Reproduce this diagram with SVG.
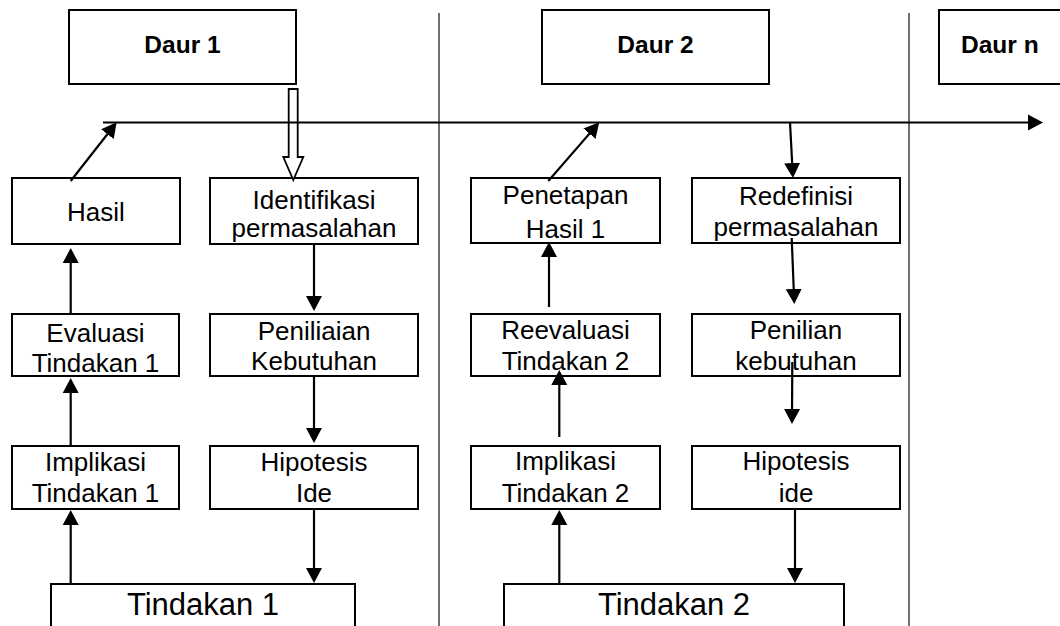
<svg xmlns="http://www.w3.org/2000/svg" width="1060" height="626" viewBox="0 0 1060 626">
<defs>
<style>
.box{fill:#fff;stroke:#000;stroke-width:2}
.t{font-family:"Liberation Sans",Arial,sans-serif;font-size:26px;fill:#000;text-anchor:middle}
.hb{font-family:"Liberation Sans",Arial,sans-serif;font-size:24.5px;font-weight:bold;fill:#000;text-anchor:middle}
.big{font-family:"Liberation Sans",Arial,sans-serif;font-size:31px;fill:#000;text-anchor:middle}
.c{stroke:#000;stroke-width:2.2;fill:none;marker-end:url(#ah)}
.div{stroke:#333;stroke-width:1.4}
</style>
<marker id="ah" markerUnits="userSpaceOnUse" markerWidth="16" markerHeight="17" refX="12" refY="8.5" orient="auto">
<path d="M0,0.5 L15,8.5 L0,16.5 Z" fill="#000"/>
</marker>
</defs>
<rect width="1060" height="626" fill="#fff"/>
<g id="dividers">
<line class="div" x1="439" y1="13" x2="439" y2="626"/>
<line class="div" x1="909" y1="13" x2="909" y2="626"/>
</g>
<g id="daur1"><rect class="box" x="69" y="10" width="227" height="74"/><text class="hb" x="182.5" y="53.3">Daur 1</text></g>
<g id="daur2"><rect class="box" x="542" y="10" width="227" height="74"/><text class="hb" x="655.5" y="53.3">Daur 2</text></g>
<g id="daurn"><rect class="box" x="939" y="10" width="140" height="74"/><text class="hb" x="961" y="53.3" style="text-anchor:start">Daur n</text></g>

<g id="hasil"><rect class="box" x="12" y="178" width="168" height="66"/><text class="t" x="96" y="221">Hasil</text></g>
<g id="identifikasi"><rect class="box" x="210" y="178" width="208" height="66"/><text class="t" x="314" y="209">Identifikasi</text><text class="t" x="314" y="237">permasalahan</text></g>
<g id="evaluasi1"><rect class="box" x="12" y="314" width="167" height="62"/><text class="t" x="95.5" y="342">Evaluasi</text><text class="t" x="95.5" y="372">Tindakan 1</text></g>
<g id="peniliaian"><rect class="box" x="210" y="314" width="208" height="62"/><text class="t" x="314" y="339.5">Peniliaian</text><text class="t" x="314" y="370">Kebutuhan</text></g>
<g id="implikasi1"><rect class="box" x="12" y="446" width="167" height="63"/><text class="t" x="95.5" y="470.5">Implikasi</text><text class="t" x="95.5" y="501.5">Tindakan 1</text></g>
<g id="hipotesis1"><rect class="box" x="210" y="446" width="208" height="63"/><text class="t" x="314" y="470.5">Hipotesis</text><text class="t" x="314" y="501.5">Ide</text></g>
<g id="tindakan1"><rect class="box" x="51" y="584" width="304" height="60"/><text class="big" x="203" y="614.7">Tindakan 1</text></g>

<g id="penetapan"><rect class="box" x="471" y="178" width="189" height="65"/><text class="t" x="565.5" y="204">Penetapan</text><text class="t" x="565.5" y="238">Hasil 1</text></g>
<g id="redefinisi"><rect class="box" x="692" y="178" width="208" height="65"/><text class="t" x="796" y="205">Redefinisi</text><text class="t" x="796" y="236">permasalahan</text></g>
<g id="reevaluasi2"><rect class="box" x="471" y="314" width="189" height="62"/><text class="t" x="565.5" y="339">Reevaluasi</text><text class="t" x="565.5" y="369.5">Tindakan 2</text></g>
<g id="penilian"><rect class="box" x="692" y="314" width="208" height="62"/><text class="t" x="796" y="339">Penilian</text><text class="t" x="796" y="369.5">kebutuhan</text></g>
<g id="implikasi2"><rect class="box" x="471" y="446" width="189" height="63"/><text class="t" x="565.5" y="470">Implikasi</text><text class="t" x="565.5" y="501.5">Tindakan 2</text></g>
<g id="hipotesis2"><rect class="box" x="692" y="446" width="208" height="63"/><text class="t" x="796" y="470">Hipotesis</text><text class="t" x="796" y="501.5">ide</text></g>
<g id="tindakan2"><rect class="box" x="504" y="584" width="340" height="60"/><text class="big" x="674" y="614.7">Tindakan 2</text></g>

<g id="connectors">
<polygon points="288.7,89 297.7,89 297.7,157 303.3,157 293.3,180 283.3,157 288.7,157" fill="#fff" stroke="#000" stroke-width="1.8" stroke-linejoin="miter"/>
<line class="c" x1="103" y1="122.5" x2="1040" y2="122.5"/>
<line class="c" x1="70.7" y1="181" x2="114.8" y2="124.7"/>
<line class="c" x1="548.3" y1="181" x2="597.3" y2="124.6"/>
<line class="c" x1="790" y1="122.5" x2="792.8" y2="175"/>
<line class="c" x1="791.7" y1="238" x2="794.2" y2="301"/>
<line class="c" x1="792.3" y1="362" x2="792" y2="421"/>
<line class="c" x1="795" y1="509" x2="795" y2="580"/>
<line class="c" x1="559.3" y1="585" x2="559.3" y2="513"/>
<line class="c" x1="559.3" y1="437" x2="559.3" y2="373"/>
<line class="c" x1="549" y1="307" x2="549" y2="245"/>
<line class="c" x1="70.7" y1="314" x2="70.7" y2="251"/>
<line class="c" x1="70.7" y1="446" x2="70.7" y2="381"/>
<line class="c" x1="70.7" y1="585" x2="70.7" y2="513"/>
<line class="c" x1="314" y1="244" x2="314" y2="308"/>
<line class="c" x1="314" y1="376" x2="314" y2="440"/>
<line class="c" x1="314" y1="509" x2="314" y2="580"/>
</g>
</svg>
